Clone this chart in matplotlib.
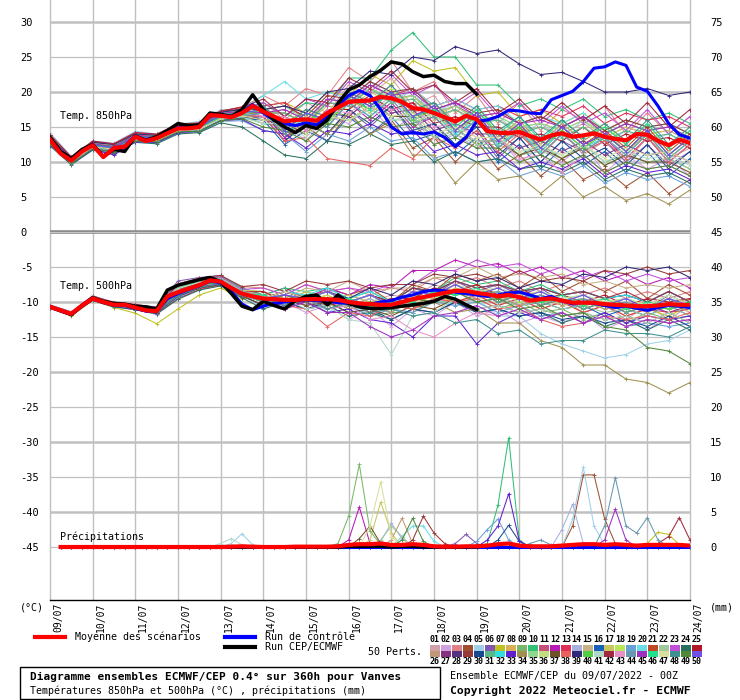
import matplotlib
matplotlib.use("Agg")
import matplotlib.pyplot as plt
import matplotlib.transforms as mtransforms
from matplotlib.lines import Line2D
from matplotlib.patches import Rectangle

plt.rcParams['font.family'] = ['DejaVu Sans Mono']
plt.rcParams['axes.unicode_minus'] = False

# échéances (heures depuis le 09/07 00Z)
hours_6h = list(range(0, 361, 6))
hours_12h = list(range(0, 361, 12))
hours_hres = list(range(0, 241, 6))
hours_rain = list(range(6, 361, 6))

day_labels = ["09/07", "10/07", "11/07", "12/07", "13/07", "14/07", "15/07", "16/07",
              "17/07", "18/07", "19/07", "20/07", "21/07", "22/07", "23/07", "24/07"]

member_colors = [
    "#d4a0a8", "#d0a0e0", "#e08088", "#a05030", "#a0d0e8", "#8058b0", "#c0c020", "#d8b058",
    "#78b868", "#30c078", "#c85078", "#b818b8", "#e03058", "#a8b0e0", "#c8b088", "#1860b8",
    "#c8c860", "#b8e858", "#68a0d8", "#68e0e8", "#c04828", "#a0c898", "#c050d8", "#287060",
    "#b01828", "#c09878", "#883080", "#583080", "#983838", "#184890", "#58b888", "#30e0e0",
    "#6020d0", "#a09050", "#90d890", "#c0e080", "#705028", "#e86060", "#302878", "#50d040",
    "#b0d8c8", "#a02840", "#e890c8", "#6898b0", "#a030c0", "#20e090", "#d8e0a0", "#409090",
    "#508838", "#7050e8",
]

# moyenne, contrôle et run déterministe (pas de 6h)
t850_mean = [13.2, 11.2, 10.2, 11.5, 12.4, 10.7, 12.0, 12.2, 13.6, 13.0,
             13.4, 14.1, 14.8, 14.8, 15.0, 16.7, 16.6, 16.4, 17.0, 18.0,
             17.2, 16.5, 15.8, 16.0, 16.1, 15.9, 17.0, 17.8, 18.6, 18.7,
             18.8, 19.3, 19.1, 18.6, 17.7, 17.5, 17.0, 16.4, 15.8, 16.6,
             16.1, 14.4, 14.2, 14.1, 14.3, 13.7, 13.2, 13.8, 14.1, 13.6,
             13.8, 14.1, 13.6, 13.3, 13.1, 14.0, 13.9, 13.0, 12.4, 13.2, 12.7]
t850_control = [13.3, 11.3, 10.3, 11.6, 12.5, 10.8, 12.0, 12.3, 13.7, 13.1,
                13.5, 14.2, 14.9, 14.9, 15.1, 16.8, 16.7, 16.5, 17.2, 18.2,
                17.0, 16.0, 15.5, 15.2, 15.6, 15.3, 16.5, 18.0, 19.5, 20.2,
                19.5, 17.5, 15.0, 14.0, 14.2, 14.0, 14.3, 13.5, 12.2, 13.5,
                15.8, 16.0, 16.5, 17.4, 17.3, 17.0, 16.9, 18.9, 19.5, 20.1,
                21.5, 23.4, 23.6, 24.3, 23.8, 20.7, 20.1, 18.0, 15.5, 13.9, 13.4]
t850_hres = [13.5, 11.5, 10.5, 11.8, 12.5, 10.8, 11.8, 11.5, 13.7, 13.1,
             13.6, 14.5, 15.5, 15.2, 15.3, 17.0, 16.8, 16.5, 17.5, 19.6,
             17.5, 16.0, 15.0, 14.2, 15.2, 14.8, 16.0, 18.4, 20.3, 21.0,
             22.2, 23.1, 24.3, 24.0, 22.9, 22.2, 22.4, 21.5, 21.2, 21.2, 19.7]

t500_mean = [-10.7, -11.2, -11.7, -10.5, -9.5, -10.0, -10.4, -10.4, -10.8, -11.2,
             -11.3, -9.2, -8.6, -8.1, -7.6, -6.9, -7.1, -8.0, -8.8, -9.2,
             -9.5, -9.6, -9.7, -9.7, -9.6, -9.6, -9.6, -9.7, -10.0, -10.2,
             -10.3, -10.4, -10.4, -10.0, -9.6, -9.3, -9.0, -8.7, -8.4, -8.4,
             -8.7, -8.9, -9.2, -9.0, -9.3, -9.8, -9.6, -9.5, -9.8, -10.1,
             -10.1, -10.1, -10.3, -10.4, -10.5, -10.6, -10.6, -10.5, -10.3, -10.4, -10.4]
t500_control = [-10.7, -11.3, -11.8, -10.6, -9.6, -10.1, -10.5, -10.5, -10.9, -11.3,
                -11.4, -9.5, -8.8, -8.2, -7.7, -7.0, -7.3, -8.5, -10.3, -11.1,
                -10.6, -10.2, -10.0, -9.8, -9.7, -9.8, -9.9, -10.1, -10.2, -10.4,
                -10.3, -10.0, -9.8, -9.3, -9.0, -8.5, -8.3, -8.4, -8.6, -8.8,
                -9.0, -9.2, -9.0, -8.7, -8.6, -9.0, -9.5, -9.2, -9.8, -10.3,
                -10.0, -10.2, -10.5, -10.8, -10.6, -10.9, -11.2, -10.8, -10.5, -10.6, -10.8]
t500_hres = [-10.7, -11.2, -11.8, -10.5, -9.4, -9.9, -10.2, -10.3, -10.6, -10.7,
             -11.0, -8.3, -7.6, -7.2, -6.8, -6.5, -7.1, -8.8, -10.6, -11.1,
             -9.9, -10.5, -11.0, -9.8, -9.2, -9.0, -10.4, -9.0, -10.2, -10.7,
             -10.9, -10.9, -10.8, -10.6, -10.4, -10.2, -9.9, -9.2, -9.6, -10.4, -11.1]

# précipitations (mm / 6h), de 6h à 360h
rain_mean = [0, 0, 0, 0, 0, 0, 0, 0, 0, 0, 0, 0, 0, 0, 0, 0,
             0.05, 0.1, 0.05, 0, 0, 0, 0.05, 0.05, 0.05, 0.05,
             0.1, 0.3, 0.4, 0.4, 0.5, 0.3, 0.3, 0.4, 0.3, 0.1,
             0.05, 0.05, 0.1, 0.1, 0.2, 0.4, 0.5, 0.2, 0.1, 0.1,
             0.1, 0.2, 0.3, 0.4, 0.4, 0.3, 0.4, 0.3, 0.2, 0.3,
             0.3, 0.3, 0.3, 0.2]
rain_control = [0] * 60
rain_hres = [0, 0, 0, 0, 0, 0, 0, 0, 0, 0, 0, 0, 0, 0, 0, 0, 0, 0, 0, 0,
             0, 0, 0, 0, 0, 0, 0, 0.1, 0.1, 0.1, 0.1, 0, 0.1, 0.1, 0, 0, 0, 0, 0, 0]

# membres perturbés (pas de 12h)
t850_members = [
    [13.5, 10.4, 12.6, 12.2, 13.9, 13.5, 15.0, 15.4, 17.0, 17.5, 18.5, 16.0, 18.5, 17.0, 21.0, 19.5, 22.0, 18.0, 19.5, 15.5, 17.5, 13.5, 15.5, 11.5, 14.5, 11.0, 13.0, 10.0, 13.5, 10.5, 12.0],
    [12.8, 10.0, 12.2, 11.6, 13.2, 13.0, 14.5, 14.8, 16.2, 16.5, 16.0, 15.5, 13.0, 16.5, 15.5, 18.0, 14.5, 16.5, 12.5, 14.0, 12.0, 13.5, 10.0, 12.0, 10.0, 12.5, 8.5, 11.0, 9.0, 10.5, 8.0],
    [13.8, 10.6, 12.9, 12.5, 14.1, 13.9, 15.3, 15.6, 17.3, 17.8, 19.5, 18.0, 20.5, 19.5, 23.5, 21.5, 24.5, 20.0, 21.5, 17.0, 19.5, 15.5, 18.5, 14.5, 17.5, 16.0, 18.0, 14.0, 17.0, 14.0, 16.5],
    [13.0, 10.1, 12.3, 11.9, 13.4, 13.2, 14.6, 14.9, 16.4, 16.8, 17.0, 13.5, 15.0, 13.0, 17.0, 14.0, 16.0, 12.0, 13.5, 10.0, 13.0, 9.0, 11.0, 8.0, 10.5, 7.5, 9.0, 6.5, 8.5, 5.5, 7.5],
    [14.2, 10.8, 13.0, 12.7, 14.4, 14.0, 15.4, 15.8, 17.5, 17.2, 16.0, 16.5, 15.0, 18.5, 18.0, 21.5, 19.0, 20.0, 17.0, 18.5, 15.5, 16.5, 14.0, 15.5, 13.5, 16.0, 12.5, 14.5, 13.0, 14.0, 12.5],
    [12.5, 9.8, 11.9, 11.4, 13.0, 12.8, 14.2, 14.5, 16.0, 16.3, 16.5, 13.0, 15.5, 14.0, 17.5, 15.0, 18.0, 14.0, 15.5, 12.0, 14.5, 10.5, 13.5, 10.0, 13.0, 11.5, 13.0, 10.0, 12.5, 9.5, 11.5],
    [13.4, 10.3, 12.5, 12.3, 13.8, 13.8, 15.1, 15.2, 16.9, 17.6, 18.0, 18.5, 17.0, 20.0, 19.5, 22.5, 21.0, 24.5, 23.0, 23.5, 19.5, 20.0, 16.5, 17.5, 15.5, 17.0, 14.5, 16.0, 15.0, 15.5, 14.0],
    [13.1, 10.2, 12.4, 12.1, 13.5, 13.3, 14.6, 14.7, 16.5, 16.8, 17.5, 14.0, 16.5, 15.0, 19.0, 17.5, 20.0, 16.0, 17.5, 14.0, 16.5, 12.5, 15.0, 11.5, 14.5, 12.0, 14.5, 11.5, 14.0, 10.5, 13.0],
    [12.9, 10.0, 12.1, 11.8, 13.3, 13.1, 14.4, 14.8, 16.3, 16.6, 15.5, 15.0, 14.0, 17.5, 16.5, 19.0, 16.5, 17.0, 14.0, 15.0, 12.5, 13.5, 11.0, 12.5, 10.5, 12.5, 10.0, 11.0, 10.0, 10.5, 9.0],
    [13.6, 10.5, 12.8, 12.4, 14.0, 13.6, 15.0, 15.3, 17.1, 17.4, 18.5, 16.5, 18.5, 18.0, 22.0, 22.0, 26.0, 28.5, 25.0, 25.0, 21.0, 21.0, 18.0, 19.0, 17.5, 19.0, 16.5, 17.5, 16.0, 17.0, 15.5],
    [13.3, 10.4, 12.6, 12.0, 13.7, 13.5, 14.9, 15.1, 16.8, 17.2, 17.0, 17.0, 15.5, 18.5, 18.0, 20.5, 19.0, 19.5, 17.0, 18.0, 16.5, 17.0, 15.5, 16.5, 15.0, 16.5, 14.0, 15.5, 14.5, 15.0, 13.5],
    [12.7, 9.9, 12.0, 11.7, 13.2, 13.0, 14.5, 14.6, 16.1, 16.5, 17.0, 13.5, 16.0, 15.0, 18.5, 16.0, 18.5, 15.0, 16.5, 13.5, 16.0, 12.0, 14.5, 11.0, 14.0, 11.5, 13.5, 10.5, 13.5, 10.0, 12.5],
    [13.9, 10.7, 12.9, 12.6, 14.2, 13.9, 15.4, 15.5, 17.2, 17.9, 18.0, 18.5, 16.0, 19.0, 18.5, 21.0, 19.5, 20.5, 18.0, 19.0, 17.5, 18.0, 16.5, 17.5, 16.5, 18.0, 15.5, 17.0, 16.0, 16.5, 15.0],
    [13.0, 10.1, 12.2, 12.0, 13.4, 13.2, 14.6, 14.9, 16.4, 16.9, 17.5, 14.5, 16.5, 15.5, 19.0, 17.0, 19.5, 16.0, 17.0, 14.0, 16.5, 12.5, 14.0, 11.0, 14.0, 11.5, 13.0, 10.5, 13.5, 10.0, 12.5],
    [13.4, 10.4, 12.5, 12.2, 13.7, 13.6, 14.9, 15.0, 16.7, 17.1, 17.0, 17.5, 16.0, 18.5, 18.0, 20.5, 18.5, 19.0, 16.0, 17.5, 16.0, 16.0, 14.5, 15.0, 14.0, 15.5, 13.5, 15.0, 14.0, 14.5, 13.0],
    [12.6, 9.8, 11.9, 11.6, 13.1, 12.9, 14.3, 14.5, 16.0, 16.2, 16.0, 12.5, 14.5, 13.0, 16.5, 14.0, 16.5, 13.0, 14.0, 11.0, 13.5, 10.0, 12.5, 9.0, 12.0, 9.5, 11.5, 8.5, 11.5, 8.0, 10.5],
    [13.7, 10.5, 12.7, 12.4, 13.9, 13.7, 15.1, 15.3, 17.0, 17.3, 17.0, 17.0, 15.5, 18.0, 17.5, 20.0, 18.5, 19.5, 16.5, 18.0, 16.0, 16.5, 15.0, 15.5, 14.5, 16.0, 13.5, 15.0, 14.0, 14.5, 13.0],
    [13.2, 10.3, 12.4, 12.1, 13.6, 13.5, 14.8, 15.0, 16.6, 17.0, 17.5, 14.5, 17.0, 16.0, 19.5, 18.0, 20.5, 17.0, 18.5, 15.5, 18.0, 14.0, 15.5, 12.5, 15.5, 13.0, 15.5, 12.5, 15.5, 12.0, 14.5],
    [12.4, 9.7, 11.8, 11.3, 12.9, 12.7, 14.1, 14.3, 15.8, 15.9, 14.5, 14.0, 11.5, 14.0, 13.0, 15.0, 13.0, 13.5, 10.5, 11.5, 10.0, 10.5, 8.0, 9.0, 8.0, 9.5, 7.0, 8.5, 7.5, 8.0, 6.5],
    [13.5, 10.4, 12.6, 12.3, 13.8, 13.6, 15.0, 15.2, 17.0, 17.5, 19.5, 21.5, 19.0, 20.0, 19.0, 21.5, 20.0, 20.5, 18.0, 19.0, 17.5, 18.0, 15.5, 16.5, 15.5, 17.0, 14.5, 16.0, 15.0, 15.5, 14.0],
    [13.3, 10.2, 12.4, 12.0, 13.6, 13.4, 14.8, 15.0, 16.6, 17.0, 17.5, 14.5, 17.0, 16.0, 19.5, 17.5, 20.0, 16.5, 18.0, 14.5, 17.0, 13.0, 15.5, 12.0, 15.0, 12.5, 14.5, 12.0, 15.0, 11.5, 14.0],
    [12.8, 9.9, 12.0, 11.6, 13.2, 13.0, 14.4, 14.6, 16.1, 16.4, 15.5, 15.5, 14.0, 16.5, 16.0, 17.5, 16.0, 16.0, 13.5, 14.0, 12.5, 12.5, 11.0, 11.5, 10.5, 12.0, 9.5, 11.0, 10.0, 10.5, 9.0],
    [13.6, 10.4, 12.7, 12.3, 13.9, 13.7, 15.1, 15.3, 17.0, 17.4, 18.5, 16.5, 19.0, 18.0, 21.5, 20.0, 22.5, 19.5, 21.0, 18.0, 20.0, 16.5, 18.5, 15.5, 18.0, 15.5, 17.0, 14.5, 17.5, 14.0, 16.5],
    [12.3, 9.6, 11.7, 11.2, 12.8, 12.6, 14.0, 14.2, 15.6, 15.0, 13.0, 11.0, 10.5, 13.0, 12.5, 14.0, 12.5, 13.0, 10.0, 11.5, 10.0, 10.5, 9.0, 9.5, 8.5, 10.0, 7.5, 9.0, 8.0, 8.5, 7.0],
    [13.1, 10.2, 12.3, 12.0, 13.5, 13.4, 14.7, 15.0, 16.5, 16.9, 16.5, 16.5, 14.5, 17.5, 17.5, 19.5, 17.5, 18.5, 15.5, 16.5, 15.0, 15.0, 13.5, 14.0, 13.0, 15.0, 12.5, 14.0, 13.0, 13.5, 12.0],
    [13.5, 10.5, 12.6, 12.2, 13.8, 13.6, 15.0, 15.2, 16.8, 17.3, 18.0, 15.5, 17.5, 16.5, 20.0, 18.5, 21.0, 17.0, 18.5, 15.0, 17.5, 13.5, 16.0, 12.5, 15.5, 13.0, 15.0, 12.5, 15.5, 12.0, 14.5],
    [12.9, 10.0, 12.1, 11.8, 13.3, 13.2, 14.6, 14.8, 16.3, 16.6, 16.0, 16.0, 14.0, 17.0, 16.5, 19.0, 17.0, 17.5, 14.5, 15.5, 14.0, 14.0, 12.0, 13.0, 11.5, 13.0, 11.0, 12.5, 11.0, 11.5, 10.0],
    [13.2, 10.2, 12.4, 11.9, 13.6, 13.3, 14.8, 15.0, 16.6, 17.0, 17.5, 14.5, 17.0, 16.0, 19.5, 18.0, 20.0, 16.5, 17.5, 14.5, 17.0, 13.0, 15.0, 12.0, 15.0, 12.5, 14.0, 11.5, 14.5, 11.0, 13.5],
    [13.8, 10.6, 12.8, 12.4, 14.0, 13.8, 15.2, 15.4, 17.2, 17.6, 17.5, 18.0, 16.5, 19.5, 19.0, 21.5, 20.0, 20.5, 17.5, 18.5, 17.0, 17.5, 15.5, 16.5, 15.0, 16.5, 14.5, 16.0, 15.0, 15.5, 14.0],
    [12.6, 9.8, 11.9, 11.5, 13.1, 12.9, 14.3, 14.5, 16.0, 16.3, 16.5, 13.0, 15.5, 14.0, 17.5, 15.5, 18.0, 14.5, 15.5, 12.5, 15.0, 11.0, 13.5, 10.0, 13.0, 10.5, 12.0, 9.5, 12.5, 9.0, 11.5],
    [13.4, 10.3, 12.5, 12.2, 13.7, 13.5, 14.9, 15.1, 16.8, 17.2, 17.0, 17.0, 15.5, 18.5, 18.0, 20.5, 18.5, 19.0, 16.5, 17.5, 15.5, 16.0, 14.0, 15.0, 13.5, 15.0, 13.0, 14.5, 13.5, 14.0, 12.5],
    [13.0, 10.1, 12.3, 11.9, 13.4, 13.2, 14.6, 14.8, 16.4, 16.7, 17.0, 14.0, 16.5, 15.0, 18.5, 16.5, 19.0, 15.5, 17.0, 14.0, 16.0, 12.5, 14.5, 11.5, 14.5, 12.0, 13.5, 11.0, 14.0, 10.5, 13.0],
    [12.5, 9.8, 11.8, 11.0, 12.9, 12.8, 14.2, 14.4, 15.9, 16.1, 14.5, 14.0, 12.0, 14.5, 14.0, 15.5, 14.0, 14.5, 11.5, 12.5, 11.0, 11.5, 9.0, 10.0, 9.0, 10.5, 8.0, 9.5, 8.5, 9.0, 7.5],
    [13.3, 10.2, 12.4, 12.0, 13.6, 13.4, 14.8, 15.0, 16.6, 16.9, 17.0, 14.0, 15.5, 14.0, 17.0, 14.0, 15.5, 11.0, 11.0, 7.0, 10.0, 7.5, 8.0, 5.5, 8.0, 5.0, 6.5, 4.5, 5.5, 4.0, 6.0],
    [13.7, 10.5, 12.7, 12.4, 14.0, 13.7, 15.1, 15.3, 17.0, 17.4, 17.5, 18.0, 16.0, 19.0, 18.5, 20.5, 19.0, 19.5, 17.0, 18.0, 16.0, 16.5, 15.0, 15.5, 14.5, 16.0, 14.0, 15.5, 14.5, 15.0, 13.5],
    [13.1, 10.1, 12.3, 12.1, 13.5, 13.3, 14.7, 14.9, 16.5, 16.9, 17.5, 14.5, 16.5, 15.5, 19.0, 17.0, 19.0, 15.5, 17.0, 13.5, 16.0, 12.0, 14.5, 11.0, 14.0, 11.5, 13.5, 11.0, 14.0, 10.5, 13.0],
    [12.9, 10.0, 12.2, 11.8, 13.3, 13.1, 14.5, 14.7, 16.3, 16.6, 16.0, 15.5, 14.0, 16.5, 16.0, 18.0, 16.5, 16.5, 13.5, 14.5, 13.0, 13.0, 11.0, 12.0, 10.5, 12.0, 9.5, 11.0, 10.0, 10.0, 8.5],
    [13.5, 10.4, 12.6, 12.2, 13.8, 13.6, 15.0, 15.0, 16.5, 16.6, 16.5, 13.0, 13.5, 10.5, 10.0, 9.5, 12.0, 10.5, 13.5, 12.0, 14.5, 11.5, 14.0, 11.0, 14.0, 11.5, 13.0, 10.5, 13.5, 10.0, 12.5],
    [13.6, 10.5, 12.8, 12.5, 14.0, 13.8, 15.2, 15.4, 17.1, 17.5, 17.5, 18.0, 17.0, 20.0, 20.5, 23.0, 22.5, 25.0, 24.5, 26.5, 25.5, 26.0, 24.0, 22.5, 22.8, 21.5, 20.0, 20.0, 20.5, 19.5, 20.0],
    [13.0, 10.1, 12.3, 11.9, 13.4, 13.2, 14.6, 14.8, 16.4, 16.7, 17.5, 14.5, 17.0, 15.5, 19.0, 17.5, 20.0, 16.0, 17.5, 14.5, 16.5, 13.0, 15.0, 12.0, 14.5, 12.0, 14.0, 11.5, 14.5, 11.0, 13.5],
    [12.7, 9.9, 12.0, 11.6, 13.2, 13.0, 14.4, 14.6, 16.1, 16.4, 15.5, 15.5, 13.5, 16.5, 16.0, 17.5, 16.0, 16.5, 13.5, 14.5, 13.0, 13.0, 11.5, 12.0, 11.0, 12.5, 10.0, 11.5, 10.5, 11.0, 9.5],
    [13.9, 10.7, 13.0, 12.6, 14.2, 14.0, 15.4, 15.6, 17.3, 17.8, 19.0, 16.5, 19.0, 18.5, 22.0, 20.5, 23.0, 20.0, 21.0, 18.5, 20.5, 17.0, 19.0, 16.0, 18.5, 16.0, 18.0, 15.5, 18.5, 15.0, 17.5],
    [13.2, 10.2, 12.5, 12.0, 13.6, 13.4, 14.8, 15.0, 16.6, 17.0, 16.5, 16.5, 14.5, 17.5, 17.0, 19.0, 17.5, 18.0, 15.0, 15.5, 13.5, 13.5, 10.5, 11.0, 8.5, 11.0, 8.5, 10.0, 9.0, 9.5, 8.0],
    [12.8, 10.0, 12.1, 11.7, 13.3, 13.1, 14.5, 14.7, 16.2, 16.5, 17.0, 14.0, 16.0, 15.0, 18.5, 16.5, 19.0, 15.5, 16.5, 13.5, 16.0, 12.0, 14.5, 11.0, 14.0, 11.5, 13.5, 11.0, 14.0, 10.5, 13.0],
    [13.5, 10.4, 12.6, 12.2, 13.8, 13.6, 15.0, 15.2, 16.9, 17.3, 17.0, 17.5, 16.0, 19.0, 18.5, 21.0, 19.5, 20.0, 17.5, 18.5, 16.5, 17.0, 15.5, 16.0, 15.0, 16.5, 14.0, 15.5, 14.5, 15.0, 13.5],
    [13.1, 10.2, 12.4, 12.0, 13.5, 13.3, 14.7, 14.9, 16.5, 16.9, 17.5, 14.5, 17.0, 16.0, 19.5, 17.5, 20.0, 16.5, 17.5, 15.0, 17.5, 14.0, 16.5, 13.0, 16.0, 13.5, 15.0, 12.5, 15.5, 12.0, 14.5],
    [12.9, 10.0, 12.2, 11.8, 13.3, 13.1, 14.5, 14.7, 16.2, 16.6, 16.0, 16.0, 14.0, 16.5, 16.0, 18.0, 16.5, 17.0, 14.0, 15.0, 13.5, 13.5, 11.5, 12.5, 11.0, 12.5, 10.5, 12.0, 11.0, 11.5, 10.0],
    [13.4, 10.3, 12.5, 12.1, 13.7, 13.5, 14.9, 15.1, 16.7, 17.1, 18.0, 15.0, 17.5, 16.5, 20.0, 18.5, 21.0, 17.5, 18.5, 15.5, 18.0, 14.5, 16.5, 13.5, 16.0, 13.5, 15.5, 13.0, 16.0, 12.5, 15.0],
    [12.6, 9.8, 11.9, 11.5, 13.0, 12.9, 14.3, 14.4, 15.9, 16.2, 15.0, 14.5, 13.0, 15.5, 15.0, 16.5, 15.0, 15.5, 12.5, 13.5, 12.0, 12.0, 10.0, 11.0, 9.5, 11.0, 8.5, 10.0, 9.0, 9.5, 8.0],
    [13.3, 10.3, 12.4, 12.0, 13.6, 13.4, 14.8, 15.0, 16.6, 17.0, 17.5, 14.5, 17.0, 16.0, 19.5, 18.0, 20.0, 16.5, 18.0, 14.5, 17.0, 13.0, 15.5, 12.0, 15.0, 12.5, 14.0, 11.5, 14.5, 11.0, 13.5],
]

t500_members = [
    [-10.5, -11.6, -9.3, -10.2, -10.6, -11.0, -8.0, -7.2, -6.8, -8.5, -8.5, -10.0, -8.5, -9.5, -9.0, -10.0, -9.0, -9.5, -7.5, -8.5, -7.5, -9.5, -8.5, -10.5, -9.5, -11.5, -10.5, -12.5, -10.5, -12.5, -10.5],
    [-10.9, -11.9, -9.7, -10.7, -11.1, -11.8, -9.5, -8.0, -7.5, -9.2, -10.5, -10.0, -11.5, -10.5, -12.5, -11.0, -13.5, -11.0, -12.0, -10.0, -12.0, -11.0, -13.0, -12.0, -13.0, -11.5, -14.0, -12.5, -14.0, -12.0, -13.5],
    [-10.6, -11.5, -9.2, -10.0, -10.3, -10.8, -7.5, -6.8, -6.5, -7.8, -8.0, -9.0, -7.5, -8.5, -8.0, -9.0, -8.0, -8.5, -6.5, -7.5, -6.5, -8.0, -7.0, -8.5, -7.5, -9.0, -8.0, -9.5, -8.5, -9.5, -8.5],
    [-10.8, -11.8, -9.6, -10.5, -11.0, -11.5, -9.0, -7.8, -7.3, -9.0, -10.0, -9.0, -10.0, -8.0, -9.0, -8.0, -10.0, -7.5, -8.5, -6.0, -7.0, -6.0, -8.0, -6.0, -8.5, -7.0, -8.5, -7.0, -9.5, -7.5, -9.0],
    [-10.7, -11.7, -9.5, -10.3, -10.7, -11.2, -8.5, -7.5, -7.0, -8.7, -9.0, -10.5, -9.5, -11.5, -10.0, -12.0, -11.0, -11.5, -9.5, -10.5, -9.5, -12.0, -12.0, -14.5, -16.0, -17.0, -18.0, -17.5, -16.0, -15.5, -14.0],
    [-10.4, -11.4, -9.1, -10.1, -10.4, -10.7, -7.0, -6.5, -6.2, -8.0, -9.0, -8.0, -9.5, -8.5, -10.0, -9.0, -10.0, -8.0, -9.0, -7.0, -8.5, -7.5, -9.0, -8.0, -10.0, -9.0, -10.5, -9.5, -11.0, -9.0, -10.5],
    [-10.9, -12.0, -9.8, -10.8, -11.6, -13.1, -11.0, -9.0, -8.0, -9.5, -9.5, -10.5, -10.0, -11.0, -10.0, -11.5, -10.5, -10.5, -9.0, -10.0, -9.0, -10.5, -9.5, -11.0, -10.0, -11.5, -10.5, -12.0, -11.0, -12.0, -10.5],
    [-10.6, -11.6, -9.4, -10.3, -10.7, -11.1, -8.2, -7.3, -6.9, -8.6, -9.5, -9.0, -10.0, -9.0, -10.5, -9.5, -11.0, -9.0, -9.5, -7.5, -9.0, -8.5, -9.5, -9.0, -10.0, -9.5, -10.5, -10.0, -11.0, -9.5, -11.0],
    [-10.8, -11.8, -9.6, -10.5, -10.9, -11.4, -9.2, -8.0, -7.5, -9.0, -9.5, -10.5, -9.5, -11.0, -10.5, -12.0, -11.5, -11.5, -10.0, -10.0, -9.5, -11.0, -10.0, -11.5, -11.0, -12.5, -11.5, -13.0, -11.5, -12.5, -12.0],
    [-10.5, -11.5, -9.2, -10.2, -10.5, -10.9, -7.5, -6.8, -6.3, -8.0, -9.0, -8.0, -8.5, -8.0, -9.5, -8.5, -10.0, -8.0, -8.5, -6.5, -7.5, -7.0, -8.5, -7.5, -9.0, -8.5, -9.5, -9.0, -10.0, -8.5, -10.0],
    [-10.7, -11.7, -9.5, -10.4, -10.8, -11.3, -8.8, -7.7, -7.2, -8.9, -9.0, -10.0, -9.0, -10.0, -9.5, -11.0, -10.0, -10.0, -8.5, -9.0, -8.5, -10.0, -9.0, -10.5, -9.5, -11.0, -10.0, -11.5, -10.5, -11.0, -10.0],
    [-10.6, -11.6, -9.3, -10.1, -10.5, -11.0, -8.3, -7.3, -6.8, -8.5, -9.5, -8.5, -9.5, -8.0, -9.0, -7.5, -8.0, -5.5, -5.5, -4.0, -5.0, -4.5, -6.0, -5.0, -6.5, -5.5, -7.0, -6.0, -7.5, -6.5, -8.0],
    [-10.9, -11.9, -9.7, -10.6, -11.1, -11.6, -9.5, -8.2, -7.6, -9.3, -9.5, -11.0, -9.5, -10.5, -10.0, -11.5, -10.5, -11.0, -9.5, -10.0, -9.0, -10.5, -9.5, -11.0, -10.0, -11.5, -10.5, -12.0, -11.0, -11.5, -11.0],
    [-10.7, -11.7, -9.4, -10.3, -10.7, -11.2, -8.6, -7.5, -7.0, -8.7, -10.0, -9.0, -10.0, -9.0, -10.5, -9.5, -11.0, -9.0, -9.5, -8.0, -9.0, -8.5, -10.0, -9.0, -10.5, -9.5, -11.0, -10.0, -11.5, -10.0, -11.0],
    [-10.6, -11.6, -9.3, -10.2, -10.6, -11.1, -8.0, -7.0, -6.6, -8.3, -8.5, -9.5, -8.0, -8.5, -7.0, -8.5, -8.0, -8.0, -6.5, -6.5, -5.0, -6.5, -6.0, -6.5, -6.0, -7.5, -7.0, -8.0, -7.5, -8.0, -7.5],
    [-10.8, -11.8, -9.6, -10.5, -10.9, -11.5, -9.0, -7.9, -7.4, -9.1, -10.5, -9.5, -10.5, -9.5, -11.0, -10.5, -11.5, -9.5, -10.0, -8.5, -10.0, -9.5, -10.5, -10.0, -11.0, -10.5, -12.0, -11.0, -12.0, -10.5, -12.0],
    [-10.5, -11.5, -9.2, -10.1, -10.5, -10.9, -7.8, -7.0, -6.6, -8.3, -8.5, -10.0, -8.5, -9.5, -9.0, -10.0, -9.5, -9.5, -8.0, -8.5, -7.5, -9.0, -8.5, -9.5, -9.0, -10.0, -9.5, -10.5, -10.0, -10.5, -9.5],
    [-10.7, -11.7, -9.5, -10.4, -10.8, -11.3, -8.7, -7.6, -7.1, -8.8, -10.0, -9.0, -10.0, -9.0, -10.5, -10.0, -11.0, -9.0, -9.5, -8.0, -9.0, -8.5, -10.0, -9.0, -10.5, -9.5, -11.0, -10.0, -11.0, -10.0, -11.0],
    [-10.8, -11.8, -9.6, -10.6, -11.0, -11.5, -9.3, -8.0, -7.5, -9.2, -9.5, -10.5, -10.0, -11.0, -10.5, -12.0, -11.0, -11.5, -10.0, -10.5, -10.0, -11.5, -10.5, -12.0, -11.5, -13.0, -12.0, -13.5, -13.0, -13.5, -13.0],
    [-10.6, -11.6, -9.3, -10.2, -10.6, -11.1, -8.2, -7.2, -6.8, -8.5, -9.5, -8.5, -9.5, -8.5, -10.0, -9.0, -10.5, -8.5, -9.0, -7.5, -8.5, -8.0, -9.0, -8.5, -9.5, -9.0, -10.0, -9.5, -10.5, -9.0, -10.5],
    [-10.7, -11.7, -9.5, -10.4, -10.8, -11.3, -8.5, -7.5, -7.0, -8.8, -9.0, -10.5, -9.0, -10.0, -9.5, -10.5, -10.0, -10.0, -8.5, -9.0, -8.5, -9.5, -9.0, -10.0, -9.5, -10.5, -10.0, -11.0, -10.0, -11.0, -10.0],
    [-10.8, -11.8, -9.6, -10.5, -10.9, -11.4, -9.0, -7.8, -7.3, -9.0, -10.0, -9.5, -10.5, -9.5, -11.0, -10.0, -11.5, -9.5, -10.0, -8.5, -10.0, -9.5, -10.5, -10.0, -11.0, -10.5, -11.5, -11.0, -12.0, -10.5, -12.0],
    [-10.5, -11.5, -9.2, -10.1, -10.5, -10.8, -7.6, -6.8, -6.4, -8.2, -8.0, -9.0, -7.5, -8.5, -8.0, -8.5, -7.5, -7.5, -5.5, -5.5, -4.0, -5.0, -4.5, -6.0, -5.0, -6.5, -5.5, -7.0, -6.0, -7.0, -6.5],
    [-10.9, -11.9, -9.7, -10.7, -11.1, -11.7, -9.6, -8.3, -7.7, -9.4, -11.0, -10.0, -11.0, -10.5, -12.0, -11.5, -12.5, -11.0, -11.5, -10.0, -11.5, -11.0, -12.0, -11.5, -13.0, -12.0, -13.5, -12.5, -14.0, -12.5, -14.0],
    [-10.6, -11.6, -9.4, -10.3, -10.7, -11.2, -8.4, -7.4, -7.0, -8.6, -8.5, -10.0, -9.0, -10.0, -9.5, -10.5, -9.5, -9.5, -8.0, -8.5, -7.5, -9.0, -8.0, -9.5, -9.0, -10.0, -9.0, -10.5, -9.5, -10.0, -9.5],
    [-10.7, -11.7, -9.5, -10.4, -10.8, -11.3, -8.8, -7.7, -7.2, -8.9, -10.0, -9.5, -10.5, -9.5, -11.0, -10.5, -11.5, -9.5, -10.0, -8.5, -9.5, -9.0, -10.5, -9.5, -10.5, -10.0, -11.0, -10.5, -11.5, -10.0, -11.5],
    [-10.8, -11.8, -9.6, -10.5, -10.9, -11.4, -9.1, -7.9, -7.4, -9.0, -9.0, -10.0, -9.0, -10.0, -9.5, -10.5, -10.0, -10.0, -8.5, -9.0, -8.5, -10.0, -9.0, -10.5, -9.5, -11.0, -10.0, -11.5, -10.5, -11.5, -10.5],
    [-10.6, -11.6, -9.3, -10.2, -10.6, -11.1, -8.2, -7.3, -6.9, -8.6, -9.5, -8.5, -9.5, -8.5, -10.0, -9.0, -10.0, -8.0, -8.5, -7.0, -8.0, -7.5, -8.5, -8.0, -9.0, -8.5, -9.5, -9.0, -10.0, -8.5, -10.0],
    [-10.5, -11.5, -9.2, -10.1, -10.4, -10.8, -7.4, -6.6, -6.2, -7.8, -7.5, -8.5, -7.0, -7.5, -7.0, -8.0, -7.5, -7.5, -6.0, -6.5, -6.0, -7.0, -5.5, -7.0, -6.5, -7.0, -5.5, -6.0, -5.0, -6.0, -5.5],
    [-10.8, -11.8, -9.6, -10.6, -11.0, -11.5, -9.2, -8.0, -7.5, -9.1, -10.5, -10.0, -11.0, -10.0, -11.5, -11.0, -12.5, -11.0, -11.5, -10.0, -11.5, -11.0, -12.0, -11.5, -12.5, -12.0, -13.0, -12.5, -13.5, -12.0, -13.5],
    [-10.7, -11.7, -9.4, -10.3, -10.7, -11.2, -8.6, -7.6, -7.1, -8.7, -9.0, -10.0, -9.0, -10.0, -9.5, -11.0, -10.0, -10.0, -8.5, -9.0, -8.5, -10.0, -9.0, -10.5, -9.5, -11.0, -10.0, -11.5, -10.5, -11.0, -10.5],
    [-10.6, -11.6, -9.3, -10.2, -10.6, -11.0, -8.0, -7.1, -6.7, -8.4, -9.5, -8.5, -9.0, -8.0, -9.5, -8.5, -10.0, -8.0, -8.5, -7.0, -8.0, -7.5, -8.5, -8.0, -9.0, -8.5, -9.5, -9.0, -10.0, -8.5, -10.0],
    [-10.8, -11.8, -9.6, -10.5, -10.9, -11.4, -9.0, -7.9, -7.4, -9.0, -10.0, -10.5, -10.0, -11.5, -11.0, -12.5, -13.0, -15.0, -12.0, -12.0, -16.0, -13.0, -11.5, -12.5, -11.5, -13.0, -11.5, -13.0, -12.0, -12.5, -12.0],
    [-10.7, -11.7, -9.5, -10.4, -10.8, -11.3, -8.7, -7.6, -7.1, -8.8, -9.5, -10.0, -9.0, -10.5, -9.5, -11.0, -10.5, -11.0, -10.0, -11.5, -11.0, -13.0, -13.0, -15.5, -16.5, -19.0, -19.0, -21.0, -21.5, -23.0, -21.5],
    [-10.6, -11.6, -9.4, -10.3, -10.7, -11.2, -8.4, -7.4, -6.9, -8.6, -9.5, -9.0, -9.5, -8.5, -10.0, -9.0, -10.5, -8.5, -9.0, -7.5, -9.0, -8.0, -9.5, -8.5, -10.0, -9.0, -10.5, -9.5, -10.5, -9.5, -10.5],
    [-10.7, -11.7, -9.5, -10.4, -10.8, -11.2, -8.6, -7.6, -7.1, -8.8, -9.0, -10.0, -9.0, -10.0, -9.5, -10.5, -10.0, -10.0, -8.5, -9.0, -8.0, -9.5, -8.5, -10.0, -9.5, -10.5, -9.5, -11.0, -10.0, -11.0, -10.0],
    [-10.8, -11.8, -9.6, -10.5, -10.9, -11.5, -9.1, -8.0, -7.5, -9.1, -10.5, -9.5, -10.5, -10.0, -11.5, -11.0, -12.0, -10.5, -11.0, -9.5, -11.0, -10.5, -11.5, -11.0, -12.0, -11.5, -12.5, -12.0, -13.0, -11.5, -13.0],
    [-10.6, -11.6, -9.4, -10.3, -10.7, -11.2, -8.5, -7.5, -7.0, -8.7, -9.0, -10.5, -11.0, -13.5, -11.5, -12.0, -10.5, -11.0, -9.5, -10.0, -9.5, -11.0, -10.5, -12.5, -13.5, -13.0, -12.0, -12.5, -12.0, -12.5, -11.5],
    [-10.7, -11.7, -9.4, -10.3, -10.7, -11.2, -8.4, -7.4, -7.0, -8.6, -9.5, -8.5, -9.5, -8.5, -9.5, -8.0, -9.0, -7.0, -7.5, -6.0, -7.0, -6.5, -8.0, -7.0, -7.5, -6.0, -6.5, -5.0, -5.5, -5.0, -6.5],
    [-10.7, -11.7, -9.5, -10.4, -10.8, -11.3, -8.7, -7.6, -7.1, -8.8, -9.0, -10.0, -9.0, -10.0, -9.5, -11.0, -10.0, -10.0, -8.5, -9.0, -8.5, -9.5, -9.0, -10.0, -9.5, -10.5, -10.0, -11.0, -10.5, -11.0, -10.0],
    [-10.8, -11.8, -9.6, -10.5, -10.9, -11.4, -9.0, -7.8, -7.3, -9.0, -10.0, -9.5, -11.0, -10.5, -12.5, -13.0, -17.5, -12.0, -11.5, -9.5, -11.0, -10.5, -11.5, -11.0, -12.0, -11.5, -12.5, -12.0, -13.0, -11.5, -13.0],
    [-10.6, -11.6, -9.3, -10.2, -10.6, -11.1, -8.2, -7.2, -6.8, -8.5, -9.5, -8.5, -9.5, -8.5, -10.0, -9.0, -10.0, -8.0, -8.5, -7.0, -8.0, -7.5, -8.5, -8.0, -9.0, -8.5, -9.5, -8.5, -10.0, -8.5, -10.0],
    [-10.7, -11.7, -9.5, -10.4, -10.8, -11.3, -8.6, -7.6, -7.1, -8.8, -9.0, -10.5, -9.5, -11.0, -10.5, -12.5, -12.0, -14.0, -15.0, -13.0, -11.5, -12.0, -11.0, -12.5, -11.5, -13.0, -12.0, -13.5, -12.5, -13.0, -12.5],
    [-10.6, -11.6, -9.4, -10.3, -10.7, -11.2, -8.3, -7.4, -6.9, -8.6, -9.5, -9.0, -9.5, -8.5, -10.0, -9.0, -10.5, -8.5, -9.0, -7.5, -9.0, -8.5, -9.5, -9.0, -10.0, -9.5, -10.5, -10.0, -11.0, -9.5, -11.0],
    [-10.8, -11.8, -9.6, -10.5, -10.9, -11.4, -9.0, -7.8, -7.4, -9.0, -9.5, -11.0, -10.0, -11.5, -11.5, -13.5, -15.0, -14.0, -12.0, -11.5, -10.5, -12.0, -11.0, -12.5, -11.5, -13.0, -12.0, -13.5, -12.5, -13.0, -12.5],
    [-10.7, -11.7, -9.5, -10.4, -10.8, -11.3, -8.6, -7.6, -7.1, -8.8, -9.0, -10.0, -9.0, -10.0, -9.5, -10.5, -10.0, -10.0, -8.5, -9.0, -8.0, -9.5, -8.5, -10.0, -9.0, -10.5, -9.5, -11.0, -10.0, -10.5, -10.0],
    [-10.6, -11.6, -9.3, -10.2, -10.6, -11.0, -8.1, -7.2, -6.8, -8.5, -9.5, -8.5, -9.5, -8.5, -10.0, -9.0, -10.5, -8.5, -9.0, -7.5, -8.5, -8.0, -9.0, -8.5, -9.5, -9.0, -10.0, -9.5, -10.5, -9.0, -10.5],
    [-10.8, -11.8, -9.6, -10.5, -10.9, -11.4, -9.1, -7.9, -7.4, -9.0, -9.5, -10.5, -9.5, -11.0, -10.0, -11.5, -11.0, -12.0, -11.5, -13.0, -12.5, -14.5, -14.0, -16.0, -15.5, -15.5, -14.0, -14.5, -14.5, -15.0, -13.5],
    [-10.7, -11.7, -9.5, -10.4, -10.8, -11.3, -8.6, -7.6, -7.1, -8.8, -10.0, -9.0, -10.0, -9.5, -10.5, -10.0, -11.0, -9.5, -10.0, -8.5, -10.0, -9.5, -11.0, -10.5, -12.0, -11.5, -13.5, -14.0, -16.5, -17.0, -18.8],
    [-10.6, -11.6, -9.4, -10.3, -10.7, -11.2, -8.4, -7.4, -6.9, -8.6, -9.5, -9.0, -9.5, -8.5, -10.0, -9.0, -10.5, -8.5, -9.0, -7.5, -9.0, -8.0, -9.5, -8.5, -10.0, -9.0, -10.5, -9.5, -11.0, -9.5, -10.5],
]

# pluies des membres : seules les échéances non nulles (heure, mm)
rain_members = {
    4: [(294, 3.0), (300, 10.3), (306, 10.3), (312, 4.0), (318, 0.5)],
    5: [(102, 0.5), (108, 1.9), (114, 0.3), (294, 4.0), (300, 11.4), (306, 3.0), (312, 0.3)],
    6: [(228, 0.5), (234, 1.8), (240, 0.5)],
    7: [(336, 0.5), (342, 2.1), (348, 1.8), (354, 0.3)],
    9: [(162, 0.5), (168, 4.4), (174, 11.8), (180, 2.3), (186, 0.3)],
    10: [(246, 0.5), (252, 6.0), (258, 15.6), (264, 1.0)],
    12: [(168, 1.0), (174, 5.7), (180, 0.5)],
    14: [(186, 0.8), (192, 3.4), (198, 1.2), (288, 2.5), (294, 6.1), (300, 0.5)],
    17: [(180, 1.0), (186, 6.4), (192, 2.0)],
    19: [(240, 0.8), (246, 2.5), (252, 4.0), (258, 1.0)],
    20: [(198, 1.5), (204, 3.0), (210, 3.0), (216, 0.8)],
    22: [(186, 1.0), (192, 3.0), (198, 1.5)],
    26: [(192, 1.0), (198, 4.1), (204, 0.5)],
    29: [(204, 1.0), (210, 4.4), (216, 2.0), (222, 0.5)],
    30: [(252, 1.0), (258, 3.1), (264, 0.8)],
    33: [(246, 1.0), (252, 3.0), (258, 7.6), (264, 0.8)],
    37: [(174, 1.2), (180, 3.0), (186, 0.5)],
    41: [(96, 0.5), (102, 1.2), (108, 0.3)],
    42: [(342, 0.5), (348, 1.5), (354, 4.2), (360, 1.0)],
    44: [(270, 0.5), (276, 1.0), (282, 0.3), (312, 3.0), (318, 9.9), (324, 3.0), (330, 2.0), (336, 4.2), (342, 1.0)],
    45: [(312, 1.0), (318, 5.4), (324, 1.0)],
    47: [(180, 3.0), (186, 9.3), (192, 1.5)],
    49: [(198, 1.0), (204, 4.1), (210, 0.8)],
}

W, H = 740, 700
def fx(px):
    return px / W
def fy(py):
    return 1 - py / H

fig = plt.figure(figsize=(7.4, 7.0), dpi=100)
ax = fig.add_axes([fx(50), 100 / H, 640 / W, 600 / H])
y_top = 30 + 22 / 7
y_bot = 30 - 578 / 7
ax.set_xlim(0, 360)
ax.set_ylim(y_bot, y_top)
for s in ["left", "right", "top"]:
    ax.spines[s].set_visible(False)
ax.spines["bottom"].set_color("black")
ax.spines["bottom"].set_linewidth(1)
ax.set_xticks([])
ax.set_yticks(range(-45, 31, 5))
ax.tick_params(axis="y", length=0, pad=21.6, labelsize=7.5)
for lab in ax.get_yticklabels():
    lab.set_horizontalalignment("left")

# grille
for d in range(16):
    ax.axvline(24 * d, color="#c0c0c0", lw=1.0, zorder=0, clip_on=False)
for v in range(-45, 31, 5):
    if v == 0:
        continue
    ax.axhline(v, color="#c0c0c0", lw=1.8 if v % 10 == 0 else 0.9, zorder=0)
ax.axhline(0, color="#8c8c8c", lw=2.6, zorder=0.5)
ax.axhline(0, color="#d0d0d0", lw=0.6, zorder=0.6)

# membres
for i in range(50):
    c = member_colors[i]
    ax.plot(hours_12h, t850_members[i], color=c, lw=0.75, marker="+", ms=2.5, mew=0.6, zorder=2)
    ax.plot(hours_12h, t500_members[i], color=c, lw=0.75, marker="+", ms=2.5, mew=0.6, zorder=2)

ax.plot(hours_6h, t850_control, color="#0000ff", lw=2.2, zorder=3)
ax.plot(hours_6h, t500_control, color="#0000ff", lw=2.2, zorder=3)
ax.plot(hours_hres, t850_hres, color="black", lw=2.5, zorder=4)
ax.plot(hours_hres, t500_hres, color="black", lw=2.5, zorder=4)
ax.plot(hours_6h, t850_mean, color="#ff0000", lw=3, zorder=5)
ax.plot(hours_6h, t500_mean, color="#ff0000", lw=3, zorder=5)

# axe des précipitations
ax2 = ax.twinx()
ax2.set_ylim(y_bot + 45, y_top + 45)
ax2.set_yticks(range(0, 76, 5))
ax2.tick_params(axis="y", length=0, pad=14.4, labelsize=7.5)
for s in ax2.spines.values():
    s.set_visible(False)
for i in range(50):
    vals = [0.0] * len(hours_rain)
    for h, v in rain_members.get(i + 1, []):
        vals[h // 6 - 1] = v
    ax2.plot(hours_rain, vals, color=member_colors[i], lw=0.75, marker="+", ms=2.5, mew=0.6, zorder=2)
ax2.plot(hours_rain, rain_control, color="#0000ff", lw=2.2, zorder=3)
ax2.plot(hours_rain[:len(rain_hres)], rain_hres, color="black", lw=2.5, zorder=4)
ax2.plot(hours_rain, rain_mean, color="#ff0000", lw=3, zorder=5)

# dates
trans = mtransforms.offset_copy(ax.get_xaxis_transform(), fig=fig, x=3, y=-3, units="dots")
for d, lab in enumerate(day_labels):
    ax.text(24 * d, 0, lab, transform=trans, rotation=90, ha="left", va="top", fontsize=7)

def label(px, py, s, **kw):
    fig.text(fx(px), fy(py), s, ha="left", va="center", **kw)

label(60, 116, "Temp. 850hPa", fontsize=7.2)
label(60, 286, "Temp. 500hPa", fontsize=7.2)
label(60, 537, "Précipitations", fontsize=7.2)
label(20, 607, "(°C)", fontsize=7.2)
label(710, 607, "(mm)", fontsize=7.2)

# légende
for x0, x1, yy, col in [(35, 65, 637, "#ff0000"), (225, 255, 637, "#0000ff"), (225, 255, 647, "black")]:
    fig.add_artist(Line2D([fx(x0), fx(x1)], [fy(yy), fy(yy)], color=col, lw=3, transform=fig.transFigure))
label(75, 637, "Moyenne des scénarios", fontsize=7.2)
label(265, 637, "Run de contrôle", fontsize=7.2)
label(265, 647, "Run CEP/ECMWF", fontsize=7.2)
label(368, 652, "50 Perts.", fontsize=7.2)

for i in range(25):
    x0 = 430 + i * 10.9
    fig.add_artist(Rectangle((fx(x0), fy(651)), 10 / W, 6 / H, transform=fig.transFigure,
                             facecolor=member_colors[i], edgecolor="none"))
    fig.add_artist(Rectangle((fx(x0), fy(657)), 10 / W, 6 / H, transform=fig.transFigure,
                             facecolor=member_colors[25 + i], edgecolor="none"))
    fig.text(fx(x0 + 5), fy(640), f"{i + 1:02d}", ha="center", va="center", fontsize=6, fontweight="bold")
    fig.text(fx(x0 + 5), fy(662), f"{i + 26:02d}", ha="center", va="center", fontsize=6, fontweight="bold")

fig.add_artist(Rectangle((fx(20), fy(699)), 420 / W, 32 / H, transform=fig.transFigure,
                         fill=False, edgecolor="black", lw=1))
label(30, 677, "Diagramme ensembles ECMWF/CEP 0.4° sur 360h pour Vanves", fontsize=8, fontweight="bold")
label(30, 691, "Températures 850hPa et 500hPa (°C) , précipitations (mm)", fontsize=7.2)
label(450, 676, "Ensemble ECMWF/CEP du 09/07/2022 - 00Z", fontsize=7.2)
label(450, 691, "Copyright 2022 Meteociel.fr - ECMWF", fontsize=8.2, fontweight="bold")

fig.savefig("out.png", dpi=100)
